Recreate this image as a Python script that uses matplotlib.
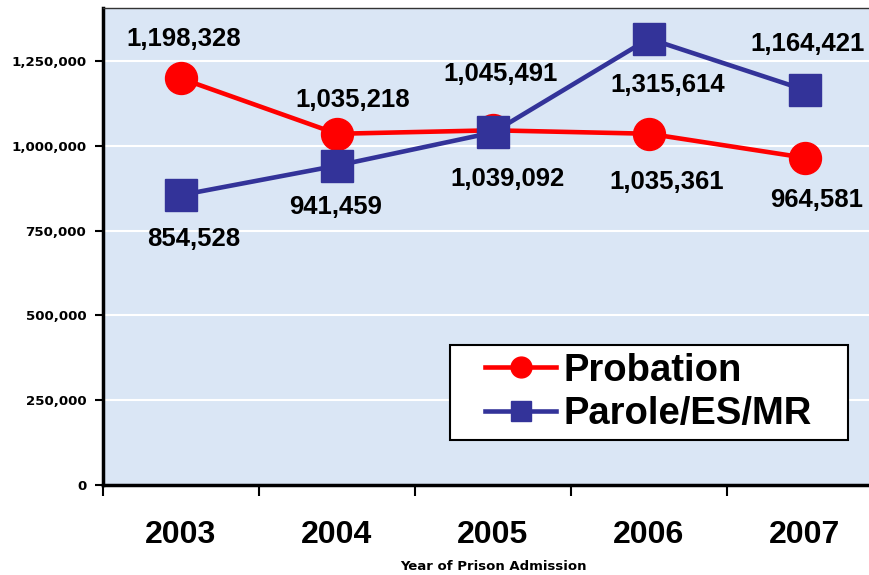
import matplotlib
matplotlib.use("Agg")
import matplotlib.pyplot as plt
from matplotlib.lines import Line2D
from matplotlib.patches import Rectangle
from matplotlib.ticker import FuncFormatter, FixedLocator

years = ["2003", "2004", "2005", "2006", "2007"]
probation = [1198328, 1035218, 1045491, 1035361, 964581]
parole = [854528, 941459, 1039092, 1315614, 1164421]
yticks = [0, 250000, 500000, 750000, 1000000, 1250000]

# label offsets in pixels (dx, dy) relative to the point
prob_off = [(3, 39), (16, 34), (8, 56), (18, -48), (12, -42)]
par_off = [(13, -44), (-1, -41), (14, -47), (19, -46), (3, 46)]

RED = "#ff0000"
BLUE = "#333399"
BG = "#dae6f5"

fig = plt.figure(figsize=(8.7, 5.75), dpi=100)
ax = fig.add_axes([103 / 870, 90 / 575, 780 / 870, 477 / 575])
ax.set_facecolor(BG)

x = list(range(len(years)))
ax.set_xlim(-0.5, len(years) - 0.5)
ax.set_ylim(0, 1406000)

for yv in yticks[1:]:
    ax.axhline(yv, color="white", lw=1.5, zorder=1)

ax.plot(x, probation, color=RED, lw=3.3, marker="o", ms=23, zorder=3)
ax.plot(x, parole, color=BLUE, lw=3.3, marker="s", ms=22.5, zorder=4)

lab_font = dict(family="Liberation Sans", weight="bold", size=18.5, color="black")
for i in x:
    ax.annotate(f"{probation[i]:,}", (i, probation[i]), xytext=prob_off[i],
                textcoords="offset pixels", ha="center", va="center", zorder=6, **lab_font)
    ax.annotate(f"{parole[i]:,}", (i, parole[i]), xytext=par_off[i],
                textcoords="offset pixels", ha="center", va="center", zorder=6, **lab_font)

ax.yaxis.set_major_locator(FixedLocator(yticks))
ax.yaxis.set_major_formatter(FuncFormatter(lambda v, p: f"{int(v):,}"))
ax.tick_params(axis="y", length=6, width=1.5, pad=6, labelsize=9.6)
for lbl in ax.get_yticklabels():
    lbl.set_fontfamily("DejaVu Sans")
    lbl.set_fontweight("bold")

ax.set_xticks(x)
ax.set_xticklabels(years, fontfamily="Liberation Sans", fontweight="bold", fontsize=23)
ax.set_xticks([i - 0.5 for i in range(len(years) + 1)], minor=True)
ax.tick_params(axis="x", which="major", length=0, pad=25)
ax.tick_params(axis="x", which="minor", length=8, width=1.5)

ax.set_xlabel("Year of Prison Admission", fontfamily="DejaVu Sans", fontweight="bold",
              fontsize=9.5, labelpad=7.5)

for s in ["left", "bottom"]:
    ax.spines[s].set_linewidth(2.5)
    ax.spines[s].set_color("black")
ax.spines["top"].set_linewidth(1.0)
ax.spines["top"].set_color("#333333")
ax.spines["right"].set_visible(False)

# legend box
box = Rectangle((0.445, 0.094), 0.51, 0.1995, transform=ax.transAxes,
                facecolor="white", edgecolor="black", lw=1.5, zorder=7)
ax.add_patch(box)

handles = [
    Line2D([], [], color=RED, lw=3.3, marker="o", ms=15),
    Line2D([], [], color=BLUE, lw=3.3, marker="s", ms=15),
]
leg = ax.legend(handles, ["Probation", "Parole/ES/MR"], loc="center left",
                bbox_to_anchor=(0.49, 0.194), frameon=False,
                prop=dict(family="Liberation Sans", weight="bold", size=27.5),
                handlelength=1.85, handletextpad=0.2, labelspacing=0.2,
                borderpad=0, borderaxespad=0)
leg.set_zorder(8)

fig.savefig("out.png", dpi=100)
